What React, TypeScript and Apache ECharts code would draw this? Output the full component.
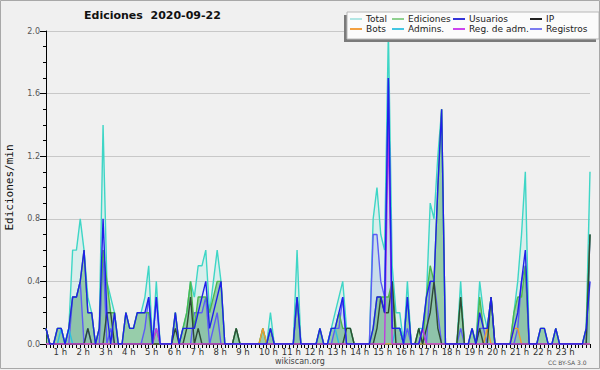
import React, { useEffect, useRef } from 'react';
import * as echarts from 'echarts';

// 10-minute bins, 144 per day (index i = hour*6 + tenMinute), values in edits/min
const total = [
  0.1, 0, 0, 0.1, 0.1, 0,
  0.1, 0.6, 0.6, 0.8, 0.6, 0.3,
  0.2, 0, 0.1, 1.4, 0.4, 0.3,
  0.2, 0, 0, 0.2, 0.1, 0.1,
  0.2, 0.2, 0.3, 0.5, 0, 0.4,
  0, 0, 0, 0, 0.2, 0,
  0.1, 0.2, 0.4, 0.3, 0.5, 0.5,
  0.6, 0.2, 0.4, 0.6, 0.4, 0,
  0, 0, 0.1, 0, 0, 0,
  0, 0, 0, 0.1, 0, 0.2,
  0, 0, 0, 0, 0, 0,
  0.6, 0, 0, 0, 0, 0,
  0.1, 0, 0, 0.1, 0.2, 0.3,
  0.4, 0.1, 0.1, 0, 0, 0,
  0, 0, 0.8, 1.0, 0.7, 0.6,
  2.0, 0.5, 0.2, 0.2, 0, 0.4,
  0, 0, 0.1, 0.1, 0.3, 0.9,
  0.8, 1.2, 1.5, 0, 0, 0,
  0, 0.4, 0, 0, 0.1, 0,
  0.4, 0.2, 0.1, 0.3, 0, 0,
  0, 0, 0, 0.2, 0.4, 0.7,
  1.1, 0, 0, 0, 0.1, 0.1,
  0, 0, 0.1, 0, 0, 0,
  0, 0, 0, 0, 0.1, 1.1,
];

const ediciones = [
  0.1, 0, 0, 0.1, 0.1, 0,
  0.1, 0.3, 0.3, 0.4, 0.6, 0.2,
  0.2, 0, 0.1, 0.6, 0.4, 0.2,
  0.2, 0, 0, 0.2, 0.1, 0.1,
  0.2, 0.2, 0.2, 0.2, 0, 0.1,
  0, 0, 0, 0, 0.2, 0,
  0.1, 0.2, 0.4, 0.1, 0.3, 0.3,
  0.3, 0.2, 0.3, 0.4, 0.4, 0,
  0, 0, 0.1, 0, 0, 0,
  0, 0, 0, 0.1, 0, 0.1,
  0, 0, 0, 0, 0, 0,
  0.3, 0, 0, 0, 0, 0,
  0.1, 0, 0, 0.1, 0.1, 0.2,
  0.1, 0.1, 0.1, 0, 0, 0,
  0, 0, 0.1, 0.3, 0.3, 0.3,
  0.3, 0.4, 0.1, 0.1, 0, 0.3,
  0, 0, 0.1, 0, 0.3, 0.5,
  0.4, 1.0, 1.5, 0, 0, 0,
  0, 0.3, 0, 0, 0.1, 0,
  0.3, 0.1, 0.1, 0.3, 0, 0,
  0, 0, 0, 0.2, 0.3, 0.3,
  0.5, 0, 0, 0, 0.1, 0.1,
  0, 0, 0.1, 0, 0, 0,
  0, 0, 0, 0, 0.1, 0.7,
];

const usuarios = [
  0.1, 0, 0, 0.1, 0.1, 0,
  0.1, 0.3, 0.3, 0.4, 0.6, 0.2,
  0.2, 0, 0.1, 0.8, 0.2, 0,
  0.2, 0, 0, 0.2, 0.1, 0.1,
  0.2, 0.2, 0.2, 0.3, 0, 0.3,
  0, 0, 0, 0, 0.2, 0,
  0.1, 0.1, 0.1, 0.1, 0.2, 0.3,
  0.4, 0.1, 0.2, 0.3, 0.4, 0,
  0, 0, 0, 0, 0, 0,
  0, 0, 0, 0, 0, 0.1,
  0, 0, 0, 0, 0, 0,
  0.3, 0, 0, 0, 0, 0,
  0.1, 0, 0, 0.1, 0.1, 0.2,
  0.3, 0, 0, 0, 0, 0,
  0, 0, 0.1, 0.3, 0.3, 0.2,
  1.7, 0.1, 0.1, 0.1, 0, 0.3,
  0, 0, 0, 0.1, 0.3, 0.4,
  0.4, 1.0, 1.5, 0, 0, 0,
  0, 0, 0, 0, 0.1, 0,
  0.2, 0.1, 0.1, 0.3, 0, 0,
  0, 0, 0, 0.1, 0.2, 0.4,
  0.6, 0, 0, 0, 0.1, 0.1,
  0, 0, 0.1, 0, 0, 0,
  0, 0, 0, 0, 0.1, 0.4,
];

const ip = [
  0.1, 0, 0, 0, 0, 0,
  0, 0, 0, 0, 0, 0.1,
  0, 0, 0, 0, 0.2, 0.2,
  0, 0, 0, 0, 0, 0,
  0, 0, 0, 0, 0, 0,
  0, 0, 0, 0, 0.1, 0,
  0, 0.1, 0.3, 0, 0.1, 0,
  0, 0, 0, 0, 0, 0,
  0, 0, 0.1, 0, 0, 0,
  0, 0, 0, 0, 0, 0,
  0, 0, 0, 0, 0, 0,
  0, 0, 0, 0, 0, 0,
  0, 0, 0, 0, 0, 0,
  0, 0.1, 0.1, 0, 0, 0,
  0, 0, 0, 0.1, 0.3, 0.2,
  0.2, 0.4, 0, 0, 0, 0,
  0, 0, 0.1, 0, 0.1, 0.2,
  0.4, 0.1, 0, 0, 0, 0,
  0, 0.3, 0, 0, 0, 0,
  0.1, 0, 0, 0.3, 0, 0,
  0, 0, 0, 0, 0, 0,
  0, 0, 0, 0, 0, 0,
  0, 0, 0, 0, 0, 0,
  0, 0, 0, 0, 0, 0.7,
];

const registros = [
  0, 0, 0, 0, 0, 0,
  0, 0.3, 0.3, 0.4, 0, 0.1,
  0, 0, 0, 0.6, 0, 0.1,
  0, 0, 0, 0, 0, 0,
  0, 0, 0.1, 0.3, 0, 0.3,
  0, 0, 0, 0, 0, 0,
  0, 0, 0, 0.2, 0.2, 0.2,
  0.3, 0, 0.1, 0.2, 0, 0,
  0, 0, 0, 0, 0, 0,
  0, 0, 0, 0, 0, 0.1,
  0, 0, 0, 0, 0, 0,
  0.3, 0, 0, 0, 0, 0,
  0, 0, 0, 0, 0.1, 0.1,
  0.3, 0, 0, 0, 0, 0,
  0, 0, 0.7, 0.7, 0.4, 0.3,
  1.7, 0.1, 0.1, 0.1, 0, 0.1,
  0, 0, 0, 0.1, 0, 0.4,
  0.4, 0.2, 0, 0, 0, 0,
  0, 0.1, 0, 0, 0, 0,
  0.1, 0.1, 0, 0, 0, 0,
  0, 0, 0, 0, 0.1, 0.4,
  0.5, 0, 0, 0, 0, 0,
  0, 0, 0, 0, 0, 0,
  0, 0, 0, 0, 0, 0.7,
];

const admins = [
  0, 0, 0, 0, 0.1, 0,
  0.1, 0, 0, 0, 0, 0,
  0, 0, 0, 0, 0, 0,
  0, 0, 0, 0, 0, 0,
  0, 0, 0, 0, 0, 0,
  0, 0, 0, 0, 0, 0,
  0, 0, 0, 0, 0, 0,
  0, 0, 0, 0, 0, 0,
  0, 0, 0, 0, 0, 0,
  0, 0, 0, 0, 0, 0,
  0, 0, 0, 0, 0, 0,
  0, 0, 0, 0, 0, 0,
  0, 0, 0, 0.1, 0.1, 0,
  0, 0, 0, 0, 0, 0,
  0, 0, 0, 0, 0, 0,
  0, 0, 0.1, 0.1, 0, 0.3,
  0, 0, 0, 0, 0, 0,
  0, 0, 0, 0, 0, 0,
  0, 0, 0, 0, 0, 0,
  0, 0, 0, 0, 0, 0,
  0, 0, 0, 0, 0, 0,
  0, 0, 0, 0, 0, 0,
  0, 0, 0, 0, 0, 0,
  0, 0, 0, 0, 0, 0,
];

const bots = [
  0, 0, 0, 0, 0, 0,
  0, 0, 0, 0, 0, 0,
  0, 0, 0, 0, 0, 0,
  0, 0, 0, 0, 0, 0,
  0, 0, 0, 0, 0, 0,
  0, 0, 0, 0, 0, 0,
  0, 0, 0, 0, 0, 0,
  0, 0, 0, 0, 0, 0,
  0, 0, 0, 0, 0, 0,
  0, 0, 0, 0.1, 0, 0,
  0, 0, 0, 0, 0, 0,
  0, 0, 0, 0, 0, 0,
  0, 0, 0, 0, 0, 0,
  0, 0, 0, 0, 0, 0,
  0, 0, 0, 0, 0, 0,
  0, 0, 0, 0, 0, 0,
  0, 0, 0, 0, 0, 0,
  0, 0, 0, 0, 0, 0,
  0, 0, 0, 0, 0, 0,
  0, 0, 0.1, 0, 0, 0,
  0, 0, 0, 0.1, 0.1, 0,
  0, 0, 0, 0, 0, 0,
  0, 0, 0, 0, 0, 0,
  0, 0, 0, 0, 0, 0,
];

const regAdm = [
  0, 0, 0, 0, 0, 0,
  0, 0, 0, 0, 0, 0,
  0, 0, 0, 0, 0, 0,
  0, 0, 0, 0, 0, 0,
  0, 0, 0, 0, 0, 0.1,
  0, 0, 0, 0, 0, 0,
  0, 0, 0, 0, 0, 0,
  0, 0, 0, 0, 0, 0,
  0, 0, 0, 0, 0, 0,
  0, 0, 0, 0, 0, 0,
  0, 0, 0, 0, 0, 0,
  0, 0, 0, 0, 0, 0,
  0, 0, 0, 0, 0, 0,
  0, 0, 0, 0, 0, 0,
  0, 0, 0, 0, 0, 0,
  1.4, 0, 0, 0, 0, 0,
  0, 0, 0, 0.1, 0, 0,
  0, 0, 0, 0, 0, 0,
  0, 0, 0, 0, 0, 0,
  0, 0, 0, 0, 0, 0,
  0, 0, 0, 0, 0, 0,
  0, 0, 0, 0, 0, 0,
  0, 0, 0, 0, 0, 0,
  0, 0, 0, 0, 0, 0,
];

const hourLabels = [1, 2, 3, 4, 5, 6, 7, 8, 9, 10, 11, 12, 13, 14, 15, 16, 17, 18, 19, 20, 21, 22, 23];
const yTicks = [0, 0.4, 0.8, 1.2, 1.6, 2.0];

const legendColumns = [
  ['Total', 'Bots'],
  ['Ediciones', 'Admins.'],
  ['Usuarios', 'Reg. de adm.'],
  ['IP', 'Registros'],
];
const legendLeft = [350, 392, 453, 530];
const legendColors: Record<string, string> = {
  'Total': '#b2e6e4',
  'Ediciones': '#8fd08f',
  'Usuarios': '#3434d8',
  'IP': '#222222',
  'Bots': '#f3a040',
  'Admins.': '#44c6e2',
  'Reg. de adm.': '#cc44ee',
  'Registros': '#7c7cf0',
};

const FONT = 'DejaVu Sans';

export default function App() {
  const ref = useRef<HTMLDivElement>(null);
  useEffect(() => {
    document.body.style.margin = '0';
    const chart = echarts.init(ref.current!, null, { renderer: 'svg' });
    const idx = total.map((_, i) => i);
    const pts = (arr: number[]) => arr.map((v, i) => [i, v]);
    const mk = (name: string, data: number[], color: string, area?: string, width = 1.4) => ({
      name,
      type: 'line',
      data: pts(data),
      symbol: 'none',
      showSymbol: false,
      smooth: false,
      lineStyle: { color, width },
      itemStyle: { color },
      areaStyle: area ? { color: area, opacity: 1 } : undefined,
      emphasis: { disabled: true },
      silent: true,
    });

    const legends = legendColumns.map((col, k) => ({
      orient: 'vertical',
      left: legendLeft[k],
      top: 14,
      itemWidth: 12,
      itemHeight: 2,
      itemGap: 0,
      icon: 'rect',
      selectedMode: false,
      z: 20,
      padding: 0,
      textStyle: { fontFamily: FONT, fontSize: 9, color: '#222', lineHeight: 10, padding: [0, 0, 0, -1] },
      data: col.map((n) => ({
        name: n,
        itemStyle: { color: legendColors[n] },
        lineStyle: { color: legendColors[n] },
      })),
    }));

    chart.setOption({
      animation: false,
      backgroundColor: '#f0f0f0',
      textStyle: { fontFamily: FONT },
      title: {
        text: 'Ediciones  2020-09-22',
        left: 84,
        top: 10,
        padding: 0,
        textStyle: { fontFamily: FONT, fontSize: 11, fontWeight: 'bold', color: '#111' },
      },
      legend: legends,
      grid: { left: 46, right: 10, top: 31, bottom: 26, containLabel: false, outerBoundsMode: 'none' },
      xAxis: {
        type: 'value',
        min: 0,
        max: 143,
        axisLine: { show: true, lineStyle: { color: '#000', width: 1 } },
        axisTick: { show: true, length: 4, customValues: idx, lineStyle: { color: '#000' } },
        axisLabel: {
          customValues: hourLabels.map((h) => h * 6 - 4),
          formatter: (v: number) => `${Math.round((v + 4) / 6)} h`,
          align: 'left',
          margin: 3,
          fontFamily: FONT,
          fontSize: 8.5,
          color: '#333',
        },
        splitLine: { show: false },
      },
      yAxis: {
        type: 'value',
        min: 0,
        max: 2,
        interval: 0.4,
        name: 'Ediciones/min',
        nameLocation: 'middle',
        nameGap: 31,
        nameTextStyle: { fontFamily: 'DejaVu Sans Mono', fontSize: 11, color: '#111' },
        axisLine: { show: true, lineStyle: { color: '#000', width: 1 } },
        axisTick: { show: true, length: 6, lineStyle: { color: '#000' } },
        minorTick: { show: true, splitNumber: 4, length: 3, lineStyle: { color: '#000' } },
        axisLabel: {
          customValues: yTicks,
          formatter: (v: number) => v.toFixed(1),
          fontFamily: FONT,
          fontSize: 8,
          color: '#555',
          margin: 6,
        },
        splitLine: { show: true, lineStyle: { color: '#c8c8c8', width: 1 } },
      },
      series: [
        mk('Total', total, '#3ed6c6', 'rgba(64,224,208,0.13)'),
        mk('Registros', registros, '#5c5cf6', 'rgba(90,110,230,0.13)'),
        mk('Ediciones', ediciones, '#4cb84c', 'rgba(70,165,90,0.45)'),
        mk('Admins.', admins, '#2cc0e0'),
        mk('Bots', bots, '#f09a30'),
        mk('IP', ip, '#2e4a36'),
        mk('Reg. de adm.', regAdm, '#c03ce0'),
        mk('Usuarios', usuarios, '#2020ea'),
      ],
      graphic: [
        { type: 'rect', z: 10, shape: { x: 344, y: 15, width: 252, height: 27 }, style: { fill: '#7a7a7a' }, silent: true },
        { type: 'rect', z: 11, shape: { x: 347, y: 12, width: 252, height: 27 }, style: { fill: '#fbfbfb', stroke: '#b8b8b8', lineWidth: 1 }, silent: true },
        { type: 'text', z: 5, x: 275, y: 361, style: { text: 'wikiscan.org', fontFamily: FONT, fontSize: 8, fill: '#444', verticalAlign: 'middle' }, silent: true },
        { type: 'text', z: 5, x: 548, y: 362, style: { text: 'CC BY-SA 3.0', fontFamily: FONT, fontSize: 6, fill: '#555', verticalAlign: 'middle' }, silent: true },
        { type: 'rect', z: 30, shape: { x: 0.5, y: 0.5, width: 599, height: 368 }, style: { fill: 'none', stroke: '#a8a8a8', lineWidth: 1 }, silent: true },
      ],
    });
    return () => chart.dispose();
  }, []);
  return <div ref={ref} style={{ position: 'fixed', left: 0, top: 0, width: 600, height: 370 }} />;
}
